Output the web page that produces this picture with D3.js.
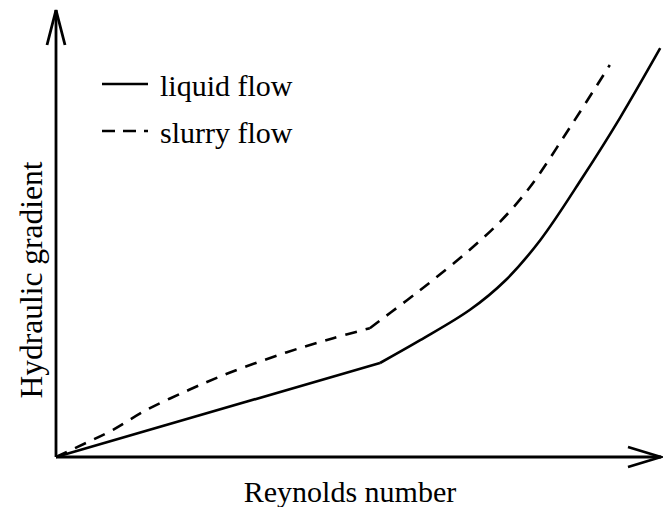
<!DOCTYPE html>
<html>
<head>
<meta charset="utf-8">
<script src="https://cdn.jsdelivr.net/npm/d3@7"></script>
<style>
  body { margin: 0; background: #fff; }
  svg { display: block; }
</style>
</head>
<body>
<svg width="663" height="507"></svg>
<script>
// values, arbitrary units (no ticks on the axes)
const liquidX = [0, 5.4, 6.07, 6.9, 7.48, 8.07, 8.78, 9.4, 10.07];
const liquidY = [0, 2.35, 2.92, 3.68, 4.4, 5.42, 7.0, 8.48, 10.22];
const liquidKink = 1; // index of the sharp bend

const slurryX = [0, 0.5, 0.95, 1.5, 2.22, 2.88, 3.85, 4.62, 5.23, 5.85, 6.28, 6.85, 7.4, 7.9, 8.57, 9.23];
const slurryY = [0, 0.35, 0.68, 1.17, 1.68, 2.1, 2.62, 2.97, 3.22, 3.92, 4.42, 5.12, 5.88, 6.75, 8.25, 9.8];
const slurryKink = 8;

const legendLabels = ["liquid flow", "slurry flow"];
const xLabel = "Reynolds number";
const yLabel = "Hydraulic gradient";

const svg = d3.select("svg");
const font = "'Liberation Serif', 'Times New Roman', serif";

// origin sits at (56,457)
const x = d3.scaleLinear().domain([0, 10]).range([56, 656]);
const y = d3.scaleLinear().domain([0, 10]).range([457, 57]);

const series = [
    { xs: liquidX, ys: liquidY, kink: liquidKink, dash: null },
    { xs: slurryX, ys: slurryY, kink: slurryKink, dash: "12,9" }
];

const line = d3.line()
    .x(d => x(d[0]))
    .y(d => y(d[1]))
    .curve(d3.curveCatmullRom.alpha(0.5));

series.forEach(s => {
    const pts = s.xs.map((v, i) => [v, s.ys[i]]);
    // smooth on both sides of the bend, sharp corner at the bend itself
    [pts.slice(0, s.kink + 1), pts.slice(s.kink)].forEach(part => {
        svg.append("path")
            .datum(part)
            .attr("d", line)
            .attr("fill", "none")
            .attr("stroke", "#000")
            .attr("stroke-width", 2.6)
            .attr("stroke-linejoin", "round")
            .attr("stroke-dasharray", s.dash);
    });
});

// axes with open arrow heads
const axisG = svg.append("g")
    .attr("stroke", "#000")
    .attr("stroke-width", 2.8)
    .attr("fill", "none");

axisG.append("line")
    .attr("x1", x(0)).attr("y1", y(0))
    .attr("x2", x(0)).attr("y2", 10);
axisG.append("polyline")
    .attr("points", [[x(0) - 9, 45], [x(0), 10], [x(0) + 9, 45]].join(" "));

axisG.append("line")
    .attr("x1", x(0)).attr("y1", y(0))
    .attr("x2", 661).attr("y2", y(0));
axisG.append("polyline")
    .attr("points", [[628, y(0) - 10], [661, y(0)], [628, y(0) + 10]].join(" "));

// axis titles
svg.append("text")
    .attr("x", 350)
    .attr("y", 502)
    .attr("text-anchor", "middle")
    .attr("font-family", font)
    .attr("font-size", 30)
    .text(xLabel);

svg.append("text")
    .attr("transform", "translate(42,280) rotate(-90)")
    .attr("text-anchor", "middle")
    .attr("font-family", font)
    .attr("font-size", 31.5)
    .text(yLabel);

// legend
const legend = svg.append("g");
series.forEach((s, i) => {
    const ly = 84 + i * 47;
    legend.append("line")
        .attr("x1", 102).attr("x2", 148)
        .attr("y1", ly).attr("y2", ly)
        .attr("stroke", "#000")
        .attr("stroke-width", 2.6)
        .attr("stroke-dasharray", s.dash ? "13,8" : null);
    legend.append("text")
        .attr("x", 160)
        .attr("y", ly + 12)
        .attr("font-family", font)
        .attr("font-size", 30)
        .text(legendLabels[i]);
});
</script>
</body>
</html>
